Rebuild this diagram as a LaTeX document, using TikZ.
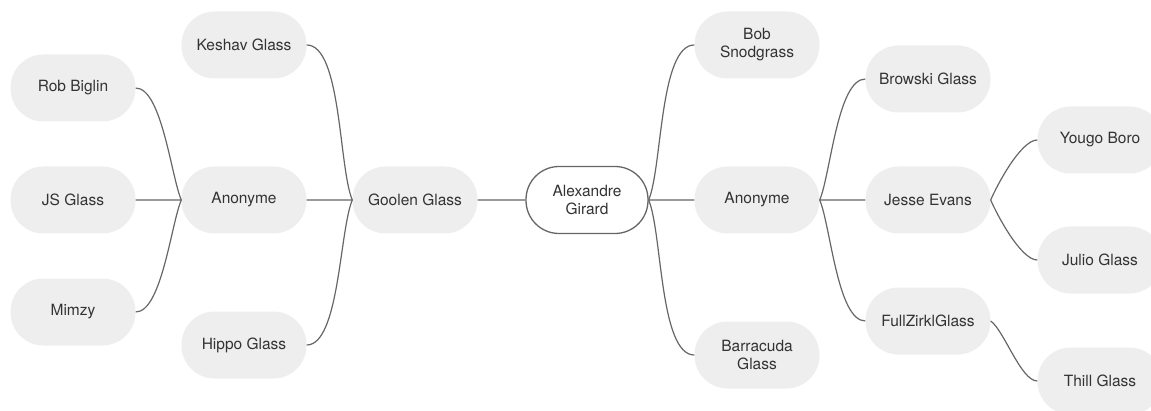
\documentclass[tikz,border=0pt]{standalone}
\usepackage{fontspec}
\setmainfont{TeX Gyre Heros}
\definecolor{pill}{HTML}{EEEEEE}
\definecolor{ink}{HTML}{333333}
\definecolor{wire}{HTML}{666666}

\begin{document}
\begin{tikzpicture}
      [ x=1pt, y=1pt
      , person/.style={fill=pill, text=ink, rounded corners=33pt, minimum width=125pt, minimum height=67pt, inner sep=0pt, align=center, font=\fontsize{15.5}{18}\selectfont}
      , root/.style={person, fill=white, draw=wire, line width=1.3pt, minimum width=122pt}
      , link/.style={wire, line width=1.2pt}
      , upRight/.style={out=67, in=180, looseness=0.55}
      , downRight/.style={out=-67, in=180, looseness=0.55}
      , upLeft/.style={out=113, in=0, looseness=0.55}
      , downLeft/.style={out=-113, in=0, looseness=0.55}
      ]
    \clip (0,0) rectangle (1151,410);

    \node[root] (AG) at (587,210) {Alexandre\\Girard};

    % left side
    \node[person] (GG) at (415,210) {Goolen Glass};
    \node[person] (KG) at (244,365) {Keshav Glass};
    \node[person] (AL) at (244,210) {Anonyme};
    \node[person] (HG) at (244,65) {Hippo Glass};
    \node[person] (RB) at (73,322) {Rob Biglin};
    \node[person] (JS) at (73,210) {JS Glass};
    \node[person] (MZ) at (73,98) {Mimzy};

    % right side
    \node[person] (BS) at (757,365) {Bob\\Snodgrass};
    \node[person] (AR) at (757,210) {Anonyme};
    \node[person] (BG) at (757,55) {Barracuda\\Glass};
    \node[person] (BW) at (928,331) {Browski Glass};
    \node[person] (JE) at (928,210) {Jesse Evans};
    \node[person] (FZ) at (928,89) {FullZirklGlass};
    \node[person] (YB) at (1100,270) {Yougo Boro};
    \node[person] (JG) at (1100,150) {Julio Glass};
    \node[person] (TG) at (1100,29) {Thill Glass};

    \draw[link]
    (AG.west) -- (GG.east)

    (GG.west) to[upLeft] (KG.east)
    (GG.west) -- (AL.east)
    (GG.west) to[downLeft] (HG.east)

    (AL.west) to[upLeft] (RB.east)
    (AL.west) -- (JS.east)
    (AL.west) to[downLeft] (MZ.east);

    \draw[link]
    (AG.east) to[upRight] (BS.west)
    (AG.east) -- (AR.west)
    (AG.east) to[downRight] (BG.west)

    (AR.east) to[upRight] (BW.west)
    (AR.east) -- (JE.west)
    (AR.east) to[downRight] (FZ.west)

    (JE.east) to[upRight] (YB.west)
    (JE.east) to[downRight] (JG.west)

    (FZ.east) to[downRight, out=-35] (TG.west);
\end{tikzpicture}
\end{document}
